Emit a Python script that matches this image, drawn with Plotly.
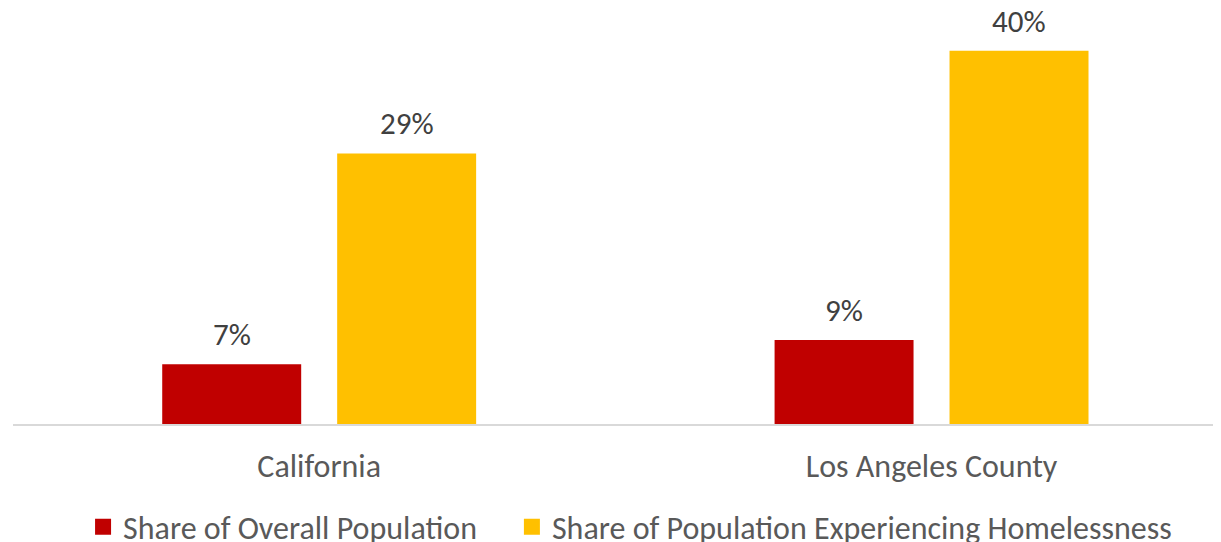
import plotly.graph_objects as go

# ── Data ────────────────────────────────────────────────────────────────────────
categories = ["California", "Los Angeles County"]
overall_share = [6.4, 9.0]
homeless_share = [29.0, 40.0]
overall_labels = ["7%", "9%"]
homeless_labels = ["29%", "40%"]
series_names = ["Share of Overall Population", "Share of Population Experiencing Homelessness"]

RED = "#C00000"
GOLD = "#FFC000"
FONT = "Carlito, Calibri, Lato, sans-serif"

fig = go.Figure()
for vals, name, color in [(overall_share, series_names[0], RED), (homeless_share, series_names[1], GOLD)]:
    fig.add_trace(
        go.Bar(
            x=categories,
            y=vals,
            name=name,
            marker=dict(color=color, line=dict(width=0)),
            showlegend=False,
            hoverinfo="skip",
        )
    )

# legend proxies: square markers read larger than the default bar swatch;
# one legend each so the spacing between entries can be set
for name, color, leg in [(series_names[0], RED, "legend"), (series_names[1], GOLD, "legend2")]:
    fig.add_trace(
        go.Scatter(
            x=[None], y=[None], mode="markers", name=name, legend=leg,
            marker=dict(symbol="square", size=18, color=color),
        )
    )

# value labels sit above each bar (offset to the bar's slot in the group)
for vals, labels, shift in [(overall_share, overall_labels, -87.5), (homeless_share, homeless_labels, 87.5)]:
    for cat, v, lab in zip(categories, vals, labels):
        fig.add_annotation(
            x=cat, y=v, text=lab, showarrow=False,
            xshift=shift, yshift=30, yanchor="middle",
            font=dict(family=FONT, size=31, color="#404040"),
        )

_LEGEND = dict(
    orientation="h",
    y=-0.2476, yanchor="middle", xanchor="left",
    font=dict(family=FONT, size=32, color="#595959"),
    itemsizing="trace",
    itemclick=False,
    bgcolor="rgba(0,0,0,0)",
)

# page body adds an 8px offset; the figure runs a little past the window bottom
# so the legend never has to push the margins
fig.update_layout(
    width=1213,
    height=550,
    paper_bgcolor="white",
    plot_bgcolor="white",
    barmode="group",
    bargap=0.4286,
    bargroupgap=0.2057,
    margin=dict(l=5, r=0, t=0, b=134),
    font=dict(family=FONT, size=32, color="#595959"),
    showlegend=True,
    legend=dict(x=0.058, **_LEGEND),
    legend2=dict(x=0.413, **_LEGEND),
    xaxis=dict(
        range=[-0.5, 1.4727],
        showline=True,
        linecolor="#D9D9D9",
        linewidth=2,
        showgrid=False,
        ticks="",
        ticklabelstandoff=13,
        tickfont=dict(family=FONT, size=32, color="#595959"),
    ),
    yaxis=dict(
        range=[0, 44.59],
        visible=False,
        showgrid=False,
        zeroline=False,
    ),
)

fig.write_html("out.html")
